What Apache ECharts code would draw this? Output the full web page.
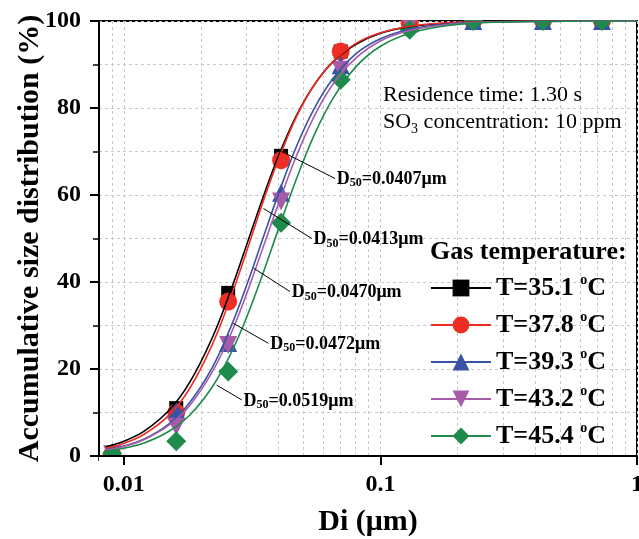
<!DOCTYPE html>
<html>
<head>
<meta charset="utf-8">
<script src="https://cdn.jsdelivr.net/npm/echarts@6/dist/echarts.min.js"></script>
<style>
  html, body { margin: 0; padding: 0; background: #fff; }
  #chart { width: 639px; height: 539px; }
</style>
</head>
<body>
<div id="chart"></div>
<script>
// Size classes of the measured particles (μm)
const sizeClasses = [0.009, 0.016, 0.0255, 0.041, 0.07, 0.13, 0.23, 0.43, 0.73];

// Measured accumulative size distribution (%) at each gas temperature
const measured351 = [0.5, 11.0, 37.5, 69.0, 93.0, 99.6, 100, 100, 100];
const measured378 = [0.4, 10.0, 35.5, 68.0, 93.0, 99.5, 100, 100, 100];
const measured393 = [0.4, 10.5, 26.0, 60.5, 89.8, 99.5, 100, 100, 100];
const measured432 = [0.4, 6.7, 25.5, 58.5, 88.8, 99.2, 100, 100, 100];
const measured454 = [0.6, 3.4, 19.4, 53.6, 86.5, 98.0, 100, 100, 100];

// Fitted distribution curves
const fitDiameters = [0.0085, 0.01, 0.012, 0.015, 0.018, 0.022, 0.026, 0.03, 0.035, 0.04,
                      0.047, 0.055, 0.065, 0.08, 0.1, 0.13, 0.18, 0.25, 0.4, 1];
const fit351 = [2.1, 3.4, 5.7, 10.5, 16.8, 26.9, 37.8, 48.3, 59.7, 68.9, 78.2, 85.2, 90.5, 94.6, 97.2, 98.7, 99.5, 99.8, 100, 100];
const fit378 = [1.8, 2.9, 5.0, 9.4, 15.4, 25.3, 36.2, 46.8, 58.7, 68.1, 77.9, 85.1, 90.5, 94.8, 97.3, 98.8, 99.6, 99.8, 100, 100];
const fit393 = [1.4, 2.3, 3.9, 7.4, 12.2, 20.1, 29.4, 39.0, 50.4, 60.2, 71.1, 79.7, 86.6, 92.4, 95.9, 98.1, 99.3, 99.7, 99.9, 100];
const fit432 = [1.4, 2.2, 3.8, 7.1, 11.5, 19.1, 27.8, 37.1, 48.2, 57.9, 68.9, 77.9, 85.3, 91.4, 95.4, 97.8, 99.1, 99.7, 99.9, 100];
const fit454 = [1.1, 1.8, 3.0, 5.7, 9.3, 15.7, 23.3, 31.7, 42.3, 52.1, 63.6, 73.6, 82.0, 89.4, 94.2, 97.2, 98.9, 99.6, 99.9, 100];

const temperatures = ['35.1', '37.8', '39.3', '43.2', '45.4'];
const d50Values = ['0.0407', '0.0413', '0.0470', '0.0472', '0.0519'];

// D50 callout arrows: tail and head in (diameter μm, %)
const calloutTail = [[0.0412, 70.0], [0.0350, 56.9], [0.0320, 43.2], [0.0267, 30.5], [0.0230, 16.3]];
const calloutHead = [[0.0665, 63.8], [0.0540, 50.0], [0.0444, 37.8], [0.0366, 25.9], [0.0288, 12.9]];

// Logarithmic axis ticks
const xRange = [0.008, 1];
const majorTicks = [0.01, 0.1, 1];
const minorTicks = [0.008, 0.009, 0.01, 0.02, 0.03, 0.04, 0.05, 0.06, 0.07, 0.08, 0.09,
                    0.1, 0.2, 0.3, 0.4, 0.5, 0.6, 0.7, 0.8, 0.9, 1];
const yTicks = { min: 0, max: 100, step: 20 };

const measuredSets = [measured351, measured378, measured393, measured432, measured454];
const fitSets = [fit351, fit378, fit393, fit432, fit454];

const FONT = "'Liberation Serif', 'Times New Roman', serif";
const colors = ['#000000', '#ee2e24', '#3852a4', '#a65ca9', '#1e8a4c'];
const symbols = ['rect', 'circle', 'triangle', 'triangle', 'diamond'];
const symbolRotates = [0, 0, 0, 180, 0];
const symbolSizes = [14, 18, 18, 18, 20];

const lg = Math.log10;
const toPoint = (d, v) => [lg(d), v];

const series = [];
temperatures.forEach((t, i) => {
  const name = 'T=' + t + ' °C';
  series.push({
    name: name,
    type: 'line',
    xAxisIndex: 0,
    yAxisIndex: 0,
    data: fitDiameters.map((d, k) => toPoint(d, fitSets[i][k])),
    smooth: 0.4,
    showSymbol: false,
    symbol: symbols[i],
    symbolRotate: symbolRotates[i],
    symbolSize: symbolSizes[i],
    itemStyle: { color: colors[i] },
    lineStyle: { color: colors[i], width: 1.6 },
    silent: true,
    markLine: {
      silent: true,
      animation: false,
      symbol: ['none', 'arrow'],
      symbolSize: [0, 10],
      lineStyle: { color: '#000', width: 1, type: 'solid' },
      label: {
        show: true,
        position: 'end',
        distance: 2,
        formatter: 'D{sub|50}=' + d50Values[i] + 'μm',
        color: '#000',
        fontFamily: FONT,
        fontSize: 18,
        fontWeight: 'bold',
        lineHeight: 20,
        rich: {
          sub: { fontFamily: FONT, fontSize: 12, fontWeight: 'bold', color: '#000',
                 lineHeight: 4, verticalAlign: 'bottom' }
        }
      },
      data: [[
        { coord: toPoint(calloutTail[i][0], calloutTail[i][1]) },
        { coord: toPoint(calloutHead[i][0], calloutHead[i][1]) }
      ]]
    }
  });
  series.push({
    name: name + ' measured',
    type: 'scatter',
    xAxisIndex: 0,
    yAxisIndex: 0,
    data: sizeClasses.map((d, k) => toPoint(d, measuredSets[i][k])),
    symbol: symbols[i],
    symbolRotate: symbolRotates[i],
    symbolSize: symbolSizes[i],
    itemStyle: { color: colors[i], opacity: 1 },
    silent: true
  });
});

const gridLine = { show: true, lineStyle: { color: '#c8c8c8', width: 1, type: [3, 3] } };
const labelFont = { fontFamily: FONT, fontSize: 24, fontWeight: 'bold', color: '#000' };

const option = {
  animation: false,
  backgroundColor: '#fff',
  grid: {
    left: 99, right: 2, top: 21, bottom: 83,
    outerBoundsMode: 'none', containLabel: false,
    show: true, borderColor: '#000', borderWidth: 2, backgroundColor: 'transparent'
  },
  title: [
    {
      text: 'Gas temperature:',
      left: 430, top: 237, padding: 0,
      textStyle: { fontFamily: FONT, fontSize: 26, fontWeight: 'bold', color: '#000', lineHeight: 30 }
    },
    {
      text: 'Residence time: 1.30 s\nSO{sub|3} concentration: 10 ppm',
      left: 383, top: 82, padding: 0,
      textStyle: {
        fontFamily: FONT, fontSize: 22, fontWeight: 'normal', color: '#000', lineHeight: 27,
        rich: { sub: { fontFamily: FONT, fontSize: 14, color: '#000', lineHeight: 3, verticalAlign: 'bottom' } }
      }
    }
  ],
  legend: {
    data: temperatures.map(t => 'T=' + t + ' °C'),
    orient: 'vertical',
    left: 430, top: 273, padding: 0,
    itemWidth: 60, itemHeight: 21, itemGap: 7,
    selectedMode: false,
    formatter: name => name.replace('°', '{sup|o}'),
    textStyle: {
      fontFamily: FONT, fontSize: 26, fontWeight: 'bold', color: '#000', lineHeight: 30,
      rich: { sup: { fontFamily: FONT, fontSize: 14, fontWeight: 'bold', color: '#000', lineHeight: 18, verticalAlign: 'top' } }
    }
  },
  xAxis: [
    {
      // main axis: line, decade ticks and labels
      type: 'value', position: 'bottom', z: 20,
      min: lg(xRange[0]), max: lg(xRange[1]),
      axisLine: { show: true, onZero: false, lineStyle: { color: '#000', width: 2 } },
      axisTick: { show: true, customValues: majorTicks.map(lg), length: 9, lineStyle: { color: '#000', width: 2 } },
      axisLabel: Object.assign({
        show: true, margin: 17, customValues: majorTicks.map(lg),
        formatter: v => String(majorTicks.find(t => Math.abs(lg(t) - v) < 1e-9))
      }, labelFont),
      splitLine: { show: false },
      name: 'Di (μm)', nameLocation: 'middle', nameGap: 51,
      nameTextStyle: { fontFamily: FONT, fontSize: 30, fontWeight: 'bold', color: '#000' }
    },
    {
      // minor decade ticks and dashed grid
      type: 'value', position: 'bottom', z: 0,
      min: lg(xRange[0]), max: lg(xRange[1]),
      axisLine: { show: false, onZero: false },
      axisTick: { show: true, customValues: minorTicks.map(lg), length: 5, lineStyle: { color: '#000', width: 1.5 } },
      axisLabel: { show: false },
      splitLine: gridLine
    }
  ],
  yAxis: [
    {
      // dashed grid
      type: 'value', position: 'left', z: 0,
      min: yTicks.min, max: yTicks.max, interval: yTicks.step,
      axisLine: { show: false, onZero: false },
      axisTick: { show: false },
      axisLabel: { show: false },
      splitLine: gridLine,
      minorTick: { show: false, splitNumber: 2 },
      minorSplitLine: gridLine
    },
    {
      type: 'value', position: 'left', z: 20,
      min: yTicks.min, max: yTicks.max, interval: yTicks.step,
      axisLine: { show: true, onZero: false, lineStyle: { color: '#000', width: 2 } },
      axisTick: { show: true, length: 9, lineStyle: { color: '#000', width: 2 } },
      minorTick: { show: true, splitNumber: 2, length: 6, lineStyle: { color: '#000', width: 1.5 } },
      axisLabel: Object.assign({ show: true, margin: 18 }, labelFont),
      splitLine: { show: false },
      name: 'Accumulative size distribution (%)', nameLocation: 'middle', nameGap: 54,
      nameMoveOverlap: false,
      nameTextStyle: { fontFamily: FONT, fontSize: 30, fontWeight: 'bold', color: '#000' }
    }
  ],
  // white bands outside the plot frame so markers sitting on 0 % and 100 % are cut at the frame
  graphic: [
    { type: 'rect', z: 10, silent: true, shape: { x: 0, y: 0, width: 639, height: 20 }, style: { fill: '#fff' } },
    { type: 'rect', z: 10, silent: true, shape: { x: 99, y: 457, width: 540, height: 20 }, style: { fill: '#fff' } }
  ],
  series: series
};

const chart = echarts.init(document.getElementById('chart'), null, { renderer: 'canvas' });
chart.setOption(option);
</script>
</body>
</html>
